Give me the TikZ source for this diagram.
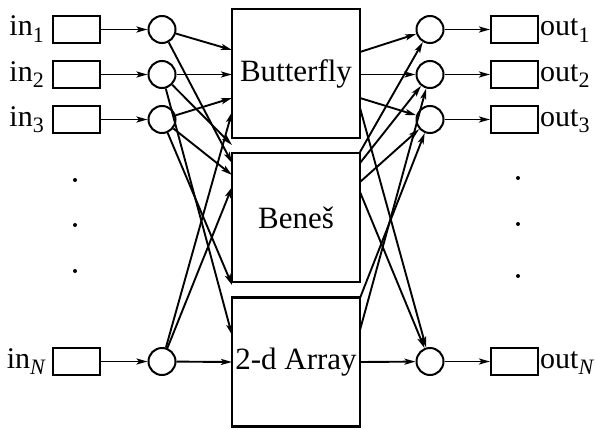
\documentclass[tikz,border=0pt]{standalone}
\usepackage{fontspec}
\setmainfont{Liberation Serif}
\usetikzlibrary{arrows.meta}
\newcommand{\lsub}[1]{\raisebox{-6pt}{\fontsize{22}{22}\selectfont #1}}
\begin{document}
\begin{tikzpicture}[x=1pt,y=-1pt,
  inbox/.style={draw,line width=2pt,minimum width=47pt,minimum height=27pt,inner sep=0},
  sw/.style={draw,circle,line width=2pt,minimum size=27pt,inner sep=0},
  net/.style={draw,line width=2.3pt,minimum width=128pt,minimum height=129pt,inner sep=0,font=\fontsize{31}{35}\selectfont},
  lab/.style={font=\fontsize{30}{34}\selectfont,inner sep=0},
  arr/.style={line width=1.9pt,-{Stealth[length=11pt,width=6pt,inset=2.5pt]}},
  dot/.style={fill,circle,inner sep=0,minimum size=4pt}]
\useasboundingbox (0,0) rectangle (596,428);
% networks
\node[net] (bf) at (296,73.5) {Butterfly};
\node[net] (bn) at (296,217.5) {Beneš};
\node[net] (ar) at (296,362) {2-d Array};
% inputs and outputs
\foreach \i/\y in {1/29.5,2/74.5,3/119.5,N/361.5}{
  \node[inbox] (ib\i) at (76.5,\y) {};
  \node[sw] (c\i) at (162,\y) {};
  \node[inbox] (ob\i) at (514.5,\y) {};
  \node[sw] (o\i) at (430,\y) {};
  \draw[arr] (ib\i) -- (c\i);
  \draw[arr] (o\i) -- (ob\i);
}
\node[lab,anchor=base east] (il1) at (44,36) {in\lsub{1}};
\node[lab,anchor=base east] (il2) at (44,81) {in\lsub{2}};
\node[lab,anchor=base east] (il3) at (44,126) {in\lsub{3}};
\node[lab,anchor=base east] (ilN) at (46,368) {in\lsub{\textit{N}}};
\node[lab,anchor=base west] (ol1) at (540,36) {out\lsub{1}};
\node[lab,anchor=base west] (ol2) at (540,81) {out\lsub{2}};
\node[lab,anchor=base west] (ol3) at (540,126) {out\lsub{3}};
\node[lab,anchor=base west] (olN) at (540,368) {out\lsub{\textit{N}}};
% dots
\foreach \y [count=\k] in {180,225,271}{
  \node[dot] (dl\k) at (75,\y) {};
}
\foreach \y [count=\k] in {178,224,276}{
  \node[dot] (dr\k) at (518,\y) {};
}
% left endpoints
\coordinate (L1) at (232,50);
\coordinate (L2) at (232,74.5);
\coordinate (L3) at (232,98);
\coordinate (L4) at (232,112);
\coordinate (L5) at (232,145);
\coordinate (L6) at (232,163);
\coordinate (L7) at (232,175);
\coordinate (L8) at (232,187);
\coordinate (L9) at (232,285);
\coordinate (L10) at (232,335);
\coordinate (L11) at (232,362);
\draw[arr] (c1) -- (L1);
\draw[arr] (c2) -- (L2);
\draw[arr] (c3) -- (L3);
\draw[arr] (cN) -- (L4);
\draw[arr] (c2) -- (L5);
\draw[arr] (c1) -- (L6);
\draw[arr] (c3) -- (L7);
\draw[arr] (cN) -- (L8);
\draw[arr] (c3) -- (L9);
\draw[arr] (c2) -- (L10);
\draw[arr] (cN) -- (L11);
% right endpoints
\coordinate (R1) at (360,52);
\coordinate (R2) at (360,74.5);
\coordinate (R3) at (360,98);
\coordinate (R4) at (360,108);
\coordinate (R5) at (360,152);
\coordinate (R6) at (360,163);
\coordinate (R7) at (360,182);
\coordinate (R8) at (360,192);
\coordinate (R9) at (360,298);
\coordinate (R10) at (360,330);
\coordinate (R11) at (360,362);
\draw[arr] (R1) -- (o1);
\draw[arr] (R2) -- (o2);
\draw[arr] (R3) -- (o3);
\draw[arr] (R4) -- (oN);
\draw[arr] (R5) -- (o1);
\draw[arr] (R6) -- (o2);
\draw[arr] (R10) -- (o2);
\draw[arr] (R7) -- (o3);
\draw[arr] (R9) -- (o3);
\draw[arr] (R8) -- (oN);
\draw[arr] (R11) -- (oN);
\end{tikzpicture}
\end{document}
